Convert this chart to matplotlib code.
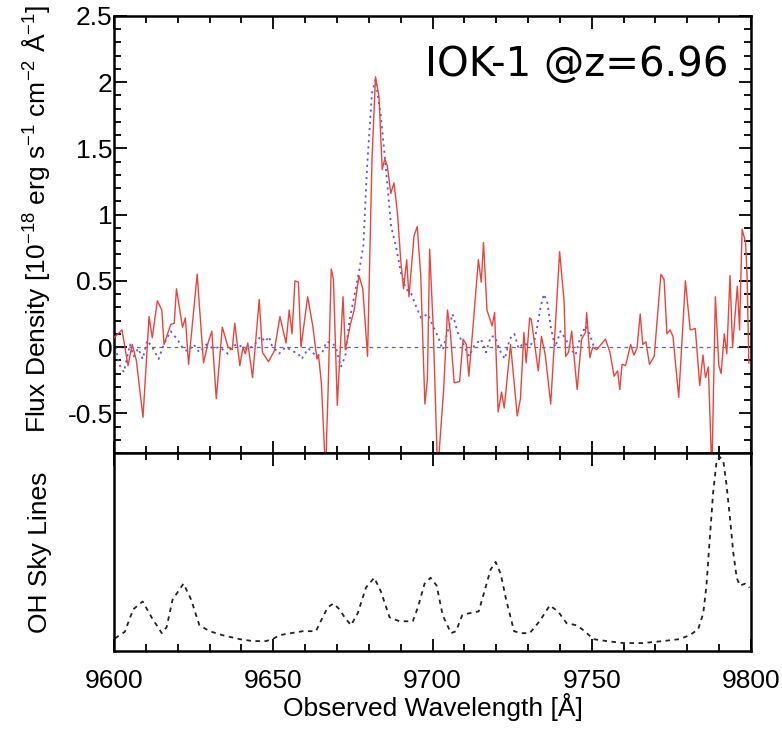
import matplotlib
matplotlib.use("Agg")
import matplotlib.pyplot as plt
from matplotlib.ticker import MultipleLocator, NullLocator

plt.rcParams['font.family'] = ['Liberation Sans', 'DejaVu Sans']
plt.rcParams['mathtext.fontset'] = 'custom'
plt.rcParams['mathtext.rm'] = 'Liberation Sans'
plt.rcParams['mathtext.default'] = 'regular'

# Observed spectrum of IOK-1 (flux density, 1e-18 erg/s/cm2/A)
wl_obs = [9600.0, 9602.5, 9604.4, 9605.7, 9607.0, 9609.1, 9611.0, 9612.0, 9613.6, 9615.0,
          9615.7, 9617.8, 9618.9, 9619.6, 9621.5, 9622.4, 9623.4, 9626.1, 9628.1, 9629.5,
          9630.7, 9632.1, 9634.0, 9635.8, 9637.1, 9637.9, 9639.5, 9640.5, 9641.2, 9642.0,
          9643.5, 9645.6, 9646.6, 9648.5, 9650.3, 9652.1, 9654.0, 9655.0, 9655.9, 9656.8,
          9657.9, 9658.7, 9660.8, 9662.4, 9663.7, 9664.2, 9665.1, 9666.4, 9667.2, 9668.2,
          9668.9, 9670.1, 9671.9, 9672.6, 9674.3, 9675.4, 9676.9, 9678.1, 9679.6, 9681.0,
          9682.1, 9683.2, 9684.2, 9685.0, 9685.8, 9686.9, 9687.9, 9689.0, 9690.0, 9690.9,
          9691.9, 9692.6, 9694.2, 9695.2, 9696.3, 9697.6, 9698.4, 9699.1, 9700.2, 9701.6,
          9703.5, 9704.7, 9705.6, 9706.8, 9708.5, 9709.6, 9710.6, 9711.4, 9712.8, 9714.4,
          9715.3, 9716.0, 9717.1, 9718.7, 9719.5, 9720.6, 9721.7, 9722.5, 9724.5, 9726.6,
          9727.6, 9728.7, 9729.4, 9730.5, 9731.0, 9733.2, 9734.2, 9735.4, 9737.1, 9738.2,
          9739.9, 9741.3, 9741.8, 9742.7, 9743.7, 9745.4, 9746.8, 9748.0, 9748.4, 9749.4,
          9750.3, 9751.5, 9754.3, 9755.7, 9757.0, 9758.1, 9758.8, 9759.5, 9760.6, 9762.2,
          9763.2, 9764.2, 9765.2, 9766.0, 9767.0, 9768.1, 9769.6, 9771.7, 9772.7, 9773.6,
          9774.6, 9775.5, 9777.3, 9779.4, 9780.9, 9782.5, 9783.9, 9784.9, 9785.7, 9786.6,
          9787.7, 9788.8, 9789.9, 9790.6, 9791.6, 9792.4, 9793.4, 9794.2, 9795.7, 9796.4,
          9797.2, 9798.3, 9798.8, 9799.3]
flux_obs = [0.07, 0.13, -0.14, 0.02, -0.10, -0.53, 0.23, 0.07, 0.35, 0.28,
            0.02, 0.17, 0.18, 0.44, 0.15, 0.22, -0.13, 0.55, -0.12, 0.03,
            0.12, -0.39, 0.15, 0.00, -0.02, 0.18, -0.14, 0.00, -0.05, 0.03,
            -0.23, 0.36, -0.04, -0.11, -0.03, 0.23, 0.03, 0.28, 0.10, 0.50,
            0.49, 0.00, 0.38, 0.16, -0.09, -0.06, -0.27, -0.95, -0.34, 0.59,
            0.51, -0.44, 0.38, -0.02, 0.18, 0.28, 0.54, 0.44, -0.07, 1.42,
            2.04, 1.89, 1.34, 1.42, 1.37, 1.16, 1.24, 1.01, 0.66, 0.44,
            0.66, 0.38, 0.84, 0.91, 0.54, -0.43, -0.24, 0.74, 0.16, -0.95,
            -0.32, 0.28, 0.11, -0.27, -0.26, 0.06, 0.02, -0.22, 0.18, 0.66,
            0.49, 0.79, 0.28, 0.16, 0.26, -0.49, -0.34, -0.46, 0.02, -0.52,
            -0.39, 0.11, -0.12, 0.22, 0.21, -0.18, 0.08, -0.06, -0.43, 0.01,
            0.72, 0.35, -0.07, -0.04, 0.12, -0.32, 0.06, 0.11, 0.26, -0.08,
            0.00, -0.02, 0.06, -0.04, -0.22, -0.18, -0.32, -0.13, -0.14, 0.02,
            -0.06, -0.01, 0.25, 0.02, 0.04, -0.13, -0.07, 0.55, 0.51, 0.10,
            0.13, 0.08, -0.38, 0.50, 0.13, 0.14, -0.29, -0.06, -0.23, -0.15,
            -0.95, 0.38, -0.14, -0.20, 0.10, -0.05, 0.54, 0.00, 0.46, 0.13,
            0.89, 0.79, 0.50, -0.12]

# Smoothed / model profile
wl_model = [9600.5, 9601.6, 9603.1, 9605.0, 9606.2, 9607.6, 9609.0, 9610.4, 9612.0, 9614.0,
            9615.6, 9617.8, 9619.8, 9621.9, 9623.3, 9625.0, 9626.8, 9629.0, 9631.1, 9633.2,
            9635.7, 9637.3, 9638.8, 9640.3, 9642.0, 9644.2, 9646.0, 9647.5, 9648.6, 9649.6,
            9651.8, 9653.9, 9656.0, 9657.9, 9658.9, 9661.0, 9663.6, 9665.4, 9666.7, 9668.6,
            9669.6, 9671.2, 9672.6, 9673.9, 9675.4, 9677.0, 9678.3, 9679.4, 9681.0, 9682.1,
            9683.8, 9685.4, 9687.0, 9688.5, 9690.1, 9691.6, 9693.2, 9694.8, 9696.4, 9698.5,
            9700.1, 9701.7, 9703.2, 9704.7, 9706.3, 9707.9, 9709.9, 9711.5, 9713.1, 9715.2,
            9716.8, 9718.3, 9719.6, 9721.0, 9722.7, 9724.2, 9725.7, 9727.0, 9728.6, 9730.5,
            9732.0, 9732.9, 9734.0, 9735.0, 9736.1, 9737.2, 9738.5, 9740.2, 9741.8, 9743.3,
            9744.9, 9746.5, 9748.1, 9749.6, 9750.7]
flux_model = [0.00, -0.13, -0.19, 0.02, -0.07, -0.01, -0.09, 0.05, 0.00, -0.09,
              0.02, 0.12, 0.06, -0.02, -0.03, 0.02, -0.04, 0.02, -0.01, 0.00,
              -0.05, 0.01, 0.02, 0.00, -0.02, 0.02, 0.08, 0.04, 0.08, 0.01,
              -0.05, 0.00, -0.03, -0.05, -0.09, -0.01, -0.07, -0.04, 0.04, 0.03,
              0.00, -0.15, -0.07, 0.20, 0.38, 0.58, 0.77, 1.34, 1.92, 2.02,
              1.74, 1.34, 0.91, 0.76, 0.56, 0.44, 0.41, 0.31, 0.22, 0.25,
              0.16, 0.08, -0.02, 0.11, 0.25, 0.11, 0.01, -0.07, 0.01, 0.06,
              -0.04, 0.08, 0.08, -0.02, -0.09, 0.06, 0.10, -0.01, 0.03, 0.01,
              0.05, 0.16, 0.31, 0.40, 0.33, 0.14, 0.00, 0.12, 0.06, -0.01,
              -0.06, 0.08, 0.16, 0.08, 0.00]

# OH night-sky emission (relative intensity)
wl_sky = [9600.3, 9603.4, 9606.0, 9609.0, 9611.8, 9615.0, 9616.5, 9618.4, 9621.8, 9624.2,
          9626.8, 9630.0, 9634.0, 9639.3, 9643.5, 9647.7, 9649.8, 9652.0, 9655.6, 9659.3,
          9663.4, 9665.5, 9667.1, 9668.9, 9670.8, 9672.4, 9674.4, 9676.5, 9679.1, 9681.7,
          9683.8, 9686.5, 9689.6, 9693.8, 9695.4, 9697.5, 9699.4, 9701.3, 9703.2, 9705.8,
          9707.4, 9709.3, 9711.4, 9714.5, 9716.1, 9718.2, 9719.8, 9721.4, 9723.1, 9725.6,
          9727.7, 9730.5, 9733.6, 9736.8, 9739.4, 9742.1, 9745.2, 9747.8, 9750.4, 9754.6,
          9759.9, 9766.0, 9772.4, 9777.6, 9780.8, 9783.4, 9785.0, 9786.0, 9787.1, 9788.1,
          9789.2, 9790.2, 9791.3, 9792.3, 9793.4, 9794.4, 9795.5, 9796.5, 9798.1, 9799.5]
sky = [0.064, 0.097, 0.21, 0.25, 0.17, 0.09, 0.12, 0.26, 0.34, 0.26,
       0.13, 0.10, 0.08, 0.06, 0.05, 0.05, 0.06, 0.08, 0.09, 0.10,
       0.10, 0.17, 0.22, 0.24, 0.21, 0.17, 0.13, 0.19, 0.32, 0.37,
       0.30, 0.17, 0.15, 0.15, 0.22, 0.34, 0.37, 0.33, 0.18, 0.09,
       0.10, 0.18, 0.19, 0.20, 0.29, 0.41, 0.45, 0.39, 0.26, 0.10,
       0.09, 0.09, 0.15, 0.23, 0.20, 0.14, 0.13, 0.10, 0.06, 0.05,
       0.04, 0.04, 0.05, 0.06, 0.08, 0.11, 0.19, 0.33, 0.58, 0.80,
       0.96, 0.98, 0.96, 0.84, 0.67, 0.50, 0.37, 0.33, 0.34, 0.32]

RED = '#e8453c'
BLUE = '#5a5ae6'

fig = plt.figure(figsize=(7.82, 7.32), dpi=100)
ax1 = fig.add_axes([0.1458, 0.3811, 0.8146, 0.5971])
ax2 = fig.add_axes([0.1458, 0.1107, 0.8146, 0.2704], sharex=ax1)

ax1.axhline(0, color=BLUE, lw=0.9, ls=(0, (3, 3)), zorder=1)
ax1.plot(wl_model, flux_model, color=BLUE, lw=1.3, ls=(0, (1.2, 2.2)), zorder=2)
ax1.plot(wl_obs, flux_obs, color=RED, lw=1.0, zorder=3)
ax1.set_xlim(9600, 9800)
ax1.set_ylim(-0.8, 2.5)
ax1.set_yticks([-0.5, 0, 0.5, 1, 1.5, 2, 2.5])
ax1.set_yticklabels(['-0.5', '0', '0.5', '1', '1.5', '2', '2.5'])
ax1.yaxis.set_minor_locator(MultipleLocator(0.1))
ax1.xaxis.set_major_locator(MultipleLocator(50))
ax1.xaxis.set_minor_locator(MultipleLocator(10))
ax1.tick_params(axis='both', which='both', direction='in', top=True, right=True,
                labelbottom=False, labelsize=19, width=1.3)
ax1.tick_params(axis='y', which='major', pad=1)
ax1.tick_params(which='major', length=9)
ax1.tick_params(which='minor', length=5)
ax1.set_ylabel('Flux Density [10$^{-18}$ erg s$^{-1}$ cm$^{-2}$ Å$^{-1}$]',
               fontsize=19)
ax1.text(0.965, 0.862, 'IOK-1 @z=6.96', transform=ax1.transAxes, ha='right',
         va='baseline', fontsize=29, family=['DejaVu Sans'])

ax2.plot(wl_sky, sky, color='#222222', lw=1.3, ls=(0, (2.5, 2.5)))
ax2.set_ylim(0, 1.0)
ax2.yaxis.set_major_locator(NullLocator())
ax2.tick_params(axis='x', which='both', direction='in', top=True, labelsize=19,
                width=1.3, pad=13)
ax2.tick_params(axis='x', which='major', length=9)
ax2.tick_params(axis='x', which='minor', length=5)
ax2.set_ylabel('OH Sky Lines', fontsize=19)
ax2.set_xlabel('Observed Wavelength [Å]', fontsize=19, labelpad=0)

for ax in (ax1, ax2):
    for s in ax.spines.values():
        s.set_linewidth(1.8)

ax1.yaxis.set_label_coords(-0.097, 0.535)
ax2.yaxis.set_label_coords(-0.097, 0.5)

fig.savefig('out.png', dpi=100)
